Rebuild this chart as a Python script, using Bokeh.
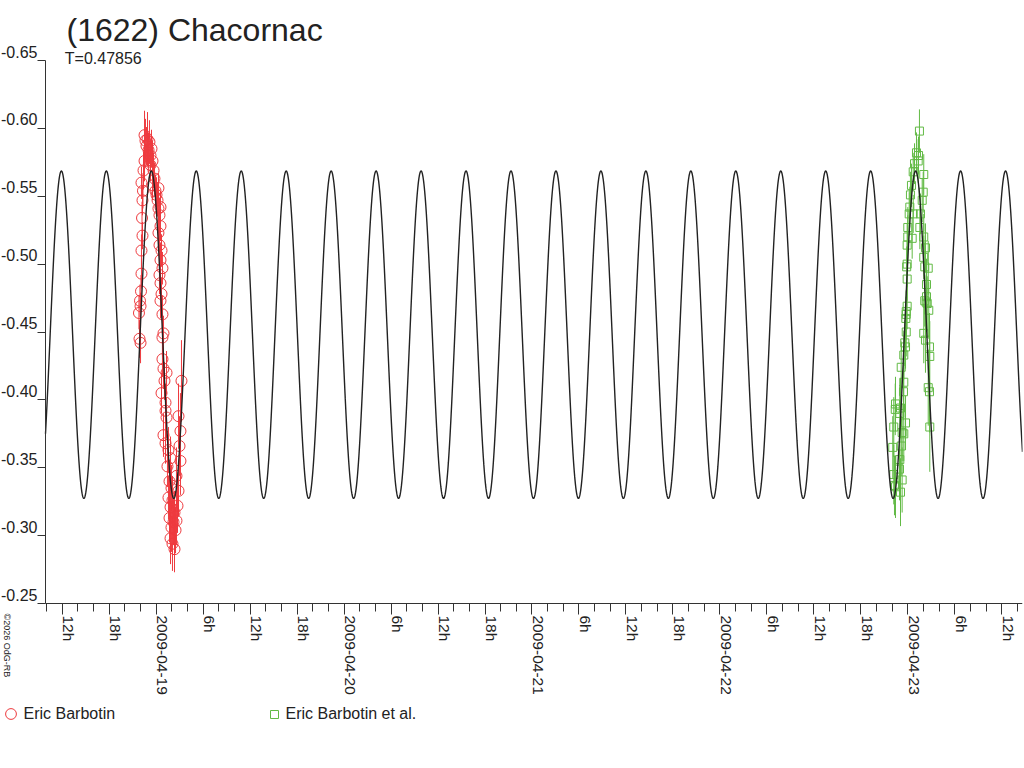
import math
import numpy as np
from bokeh.plotting import figure
from bokeh.models import (Range1d, FixedTicker, Label, LabelSet, Legend, LegendItem,
                          ColumnDataSource)
from bokeh.core.properties import value
from bokeh.embed import file_html
from bokeh.resources import INLINE

# ---------------- data ----------------
TITLE = "(1622) Chacornac"
SUBTITLE = "T=0.47856"
COPYRIGHT = "©2026 OdG-RB"
PERIOD_D = 0.47856            # rotation period, days (two maxima per period)

# fitted model curve
FIT_MEAN = -0.4480
FIT_AMP = 0.1206
FIT_EPOCH_D = -0.026          # days from 2009-04-19 00:00 UT at a brightness maximum

series_names = ["Eric Barbotin", "Eric Barbotin et al."]

x_tick_hours = [-12, -6, 0, 6, 12, 18, 24, 30, 36, 42, 48, 54, 60, 66, 72, 78,
                84, 90, 96, 102, 108]          # hours from 2009-04-19 00:00 UT
x_tick_labels = ["12h", "18h", "2009-04-19", "6h", "12h", "18h", "2009-04-20",
                 "6h", "12h", "18h", "2009-04-21", "6h", "12h", "18h",
                 "2009-04-22", "6h", "12h", "18h", "2009-04-23", "6h", "12h"]
y_ticks = [-0.65, -0.60, -0.55, -0.50, -0.45, -0.40, -0.35, -0.30, -0.25]
y_tick_labels = ["-0.65", "-0.60", "-0.55", "-0.50", "-0.45", "-0.40", "-0.35",
                 "-0.30", "-0.25"]

# Eric Barbotin: hours from 2009-04-19 00:00 UT, relative magnitude, error
red_hours = [-2.20, -2.13, -2.00, -2.07, -2.00, -1.94, -1.88, -1.88, -1.75, -1.81,
             -1.75, -1.69, -1.88, -1.62, -1.49, -1.37, -1.49, -1.24, -1.11, -0.98,
             -0.86, -0.73, -0.60, -0.47, -0.73, -0.34, -0.22, -0.47, -0.09, 0.04,
             0.17, 0.29, 0.29, 0.42, 0.55, 0.55, 0.29, 0.42, 0.68, 0.55,
             0.80, 0.42, 0.55, 0.68, 0.55, 0.80, 0.93, 0.80, 0.80, 0.93,
             1.32, 1.06, 0.68, 1.19, 1.19, 1.32, 0.93, 1.19, 1.57, 1.83,
             1.44, 1.70, 1.95, 1.57, 2.08, 1.83, 2.34, 1.70, 2.21, 1.95,
             2.47, 1.83, 2.08, 2.34, 2.59, 2.72, 2.85, 2.59, 3.10, 2.98,
             3.10, 2.85, 3.23]
red_mag = [-0.464, -0.445, -0.442, -0.473, -0.469, -0.480, -0.493, -0.510, -0.521, -0.534,
           -0.547, -0.554, -0.560, -0.569, -0.576, -0.591, -0.595, -0.587, -0.592, -0.584,
           -0.590, -0.580, -0.585, -0.576, -0.573, -0.569, -0.563, -0.558, -0.554, -0.551,
           -0.547, -0.556, -0.541, -0.536, -0.542, -0.528, -0.523, -0.514, -0.510, -0.503,
           -0.497, -0.492, -0.486, -0.478, -0.473, -0.463, -0.449, -0.446, -0.430, -0.423,
           -0.420, -0.414, -0.405, -0.398, -0.392, -0.387, -0.374, -0.368, -0.363, -0.357,
           -0.351, -0.340, -0.335, -0.328, -0.326, -0.321, -0.317, -0.313, -0.310, -0.306,
           -0.304, -0.298, -0.294, -0.290, -0.311, -0.322, -0.333, -0.344, -0.355, -0.366,
           -0.377, -0.388, -0.414]
red_err = [0.012, 0.014, 0.015, 0.012, 0.010, 0.012, 0.011, 0.012, 0.010, 0.012,
           0.011, 0.013, 0.012, 0.014, 0.015, 0.016, 0.018, 0.014, 0.020, 0.013,
           0.016, 0.012, 0.014, 0.015, 0.012, 0.013, 0.012, 0.011, 0.012, 0.013,
           0.012, 0.011, 0.012, 0.013, 0.012, 0.011, 0.012, 0.013, 0.012, 0.013,
           0.012, 0.014, 0.013, 0.012, 0.013, 0.014, 0.013, 0.014, 0.013, 0.015,
           0.016, 0.014, 0.015, 0.014, 0.016, 0.015, 0.016, 0.015, 0.017, 0.016,
           0.015, 0.016, 0.017, 0.016, 0.018, 0.017, 0.016, 0.018, 0.017, 0.018,
           0.017, 0.019, 0.020, 0.017, 0.018, 0.020, 0.019, 0.021, 0.025, 0.022,
           0.028, 0.024, 0.030]

# Eric Barbotin et al.: hours from 2009-04-23 00:00 UT, relative magnitude, error
green_hours = [1.49, 1.11, 1.37, 0.86, 1.33, 0.69, 2.04, 0.47, 1.97, 0.34,
               1.84, 0.26, 0.18, 0.69, 1.62, 1.54, 0.00, 0.00, 0.56, 2.04,
               -0.08, 2.26, 2.04, -0.08, -0.14, 2.17, 2.61, -0.08, 2.39, -0.08,
               2.39, 2.17, 2.48, -0.20, 2.68, 2.35, -0.20, -0.25, -0.20, 2.04,
               2.26, -0.38, -0.29, 2.77, -0.51, 2.81, -0.84, -0.51, 2.61, 2.77,
               -0.55, -1.57, -0.93, -1.60, -1.02, -0.29, -1.79, 2.81, -0.72, -0.51,
               -1.92, -0.84, -1.02, -1.06, -1.79, -0.72, -1.70, -0.93, -1.57]
green_mag = [-0.598, -0.582, -0.580, -0.574, -0.576, -0.568, -0.566, -0.558, -0.553, -0.551,
             -0.547, -0.542, -0.537, -0.537, -0.537, -0.527, -0.527, -0.520, -0.519, -0.520,
             -0.514, -0.512, -0.505, -0.500, -0.498, -0.498, -0.497, -0.489, -0.485, -0.469,
             -0.476, -0.473, -0.471, -0.465, -0.466, -0.472, -0.463, -0.460, -0.450, -0.449,
             -0.444, -0.442, -0.439, -0.439, -0.433, -0.432, -0.424, -0.413, -0.409, -0.406,
             -0.406, -0.397, -0.394, -0.393, -0.390, -0.383, -0.380, -0.380, -0.376, -0.375,
             -0.365, -0.366, -0.356, -0.349, -0.345, -0.341, -0.337, -0.332, -0.336]
green_err = [0.016, 0.015, 0.014, 0.015, 0.016, 0.014, 0.015, 0.016, 0.015, 0.017,
             0.016, 0.015, 0.016, 0.014, 0.015, 0.016, 0.015, 0.016, 0.015, 0.017,
             0.016, 0.018, 0.016, 0.017, 0.015, 0.018, 0.020, 0.016, 0.019, 0.017,
             0.018, 0.019, 0.020, 0.016, 0.021, 0.019, 0.017, 0.016, 0.018, 0.022,
             0.024, 0.017, 0.016, 0.025, 0.018, 0.026, 0.019, 0.020, 0.028, 0.030,
             0.021, 0.020, 0.022, 0.019, 0.021, 0.020, 0.022, 0.033, 0.021, 0.020,
             0.023, 0.022, 0.021, 0.023, 0.022, 0.024, 0.022, 0.025, 0.023]

# ---------------- layout / style ----------------
FONT = "Liberation Sans"
TEXT_COLOR = "#222222"
AXIS_COLOR = "#333333"
RED = "#EE3A3E"
GREEN = "#62BA45"
CURVE_COLOR = "#222222"

W, H = 1024, 760
TOP = 10                                  # frame top (px); the frame fills the rest
PX_PER_DAY = 187.9
PX_PER_MAG = 543 / 0.4
AXIS_X = -0.5891                          # where the magnitude axis stands (days)
AXIS_LEFT_PX = 45
AXIS_TOP_PX, AXIS_BOTTOM_PX = 60, 603     # -0.65 and -0.25 positions
X_END = 4.6105
X_START = AXIS_X - AXIS_LEFT_PX / PX_PER_DAY
Y_TOP = y_ticks[0] - (AXIS_TOP_PX - TOP) / PX_PER_MAG
Y_BOTTOM = y_ticks[-1] + (H - AXIS_BOTTOM_PX) / PX_PER_MAG

p = figure(width=W, height=H, output_backend="svg", toolbar_location=None, title=None,
           x_range=Range1d(X_START, X_END), y_range=Range1d(Y_BOTTOM, Y_TOP),
           x_axis_location="above", y_axis_location="right",
           min_border_left=0, min_border_right=2, min_border_top=TOP,
           min_border_bottom=0)
p.outline_line_color = None
p.xgrid.visible = False
p.ygrid.visible = False
p.background_fill_color = "white"
p.border_fill_color = "white"

# time axis: drawn at mag -0.25, ticks pointing down
xa = p.xaxis[0]
xa.fixed_location = y_ticks[-1]
xa.bounds = (AXIS_X, X_END)
xa.ticker = FixedTicker(ticks=[h / 24 for h in x_tick_hours],
                        minor_ticks=[k / 12 for k in range(-7, 56)])
xa.axis_line_color = AXIS_COLOR
xa.major_tick_line_color = AXIS_COLOR
xa.minor_tick_line_color = AXIS_COLOR
xa.major_tick_in = 11
xa.major_tick_out = 0
xa.minor_tick_in = 8
xa.minor_tick_out = 0
xa.major_label_standoff = 0
xa.major_label_text_font_size = "0px"
xa.major_label_text_color = None

# magnitude axis: drawn at AXIS_X, ticks pointing left
ya = p.yaxis[0]
ya.fixed_location = AXIS_X
ya.bounds = (y_ticks[0], y_ticks[-1])
ya.ticker = FixedTicker(ticks=y_ticks, minor_ticks=[])
ya.axis_line_color = AXIS_COLOR
ya.major_tick_line_color = AXIS_COLOR
ya.major_tick_in = 8
ya.major_tick_out = 0
ya.minor_tick_in = 0
ya.minor_tick_out = 0
ya.major_label_standoff = 0
ya.major_label_text_font_size = "0px"
ya.major_label_text_color = None

# data
red_x = [h / 24 for h in red_hours]
green_x = [4 + h / 24 for h in green_hours]
red_src = ColumnDataSource(dict(x=red_x, y=red_mag,
                                lo=[m - e for m, e in zip(red_mag, red_err)],
                                hi=[m + e for m, e in zip(red_mag, red_err)]))
green_src = ColumnDataSource(dict(x=green_x, y=green_mag,
                                  lo=[m - e for m, e in zip(green_mag, green_err)],
                                  hi=[m + e for m, e in zip(green_mag, green_err)]))

p.segment(x0="x", y0="lo", x1="x", y1="hi", source=red_src, line_color=RED, line_width=1)
r_red = p.scatter(x="x", y="y", source=red_src, marker="circle", size=11,
                  fill_color=None, line_color=RED, line_width=1)
p.segment(x0="x", y0="lo", x1="x", y1="hi", source=green_src, line_color=GREEN, line_width=1)
r_green = p.scatter(x="x", y="y", source=green_src, marker="square", size=8,
                    fill_color=None, line_color=GREEN, line_width=1)

# model curve
t = np.linspace(AXIS_X, X_END, 4000)
model = FIT_MEAN - FIT_AMP * np.cos(4 * math.pi * (t - FIT_EPOCH_D) / PERIOD_D)
p.line(t, model, line_color=CURVE_COLOR, line_width=1.4)

# tick labels
ylab = ColumnDataSource(dict(x=[AXIS_X] * len(y_ticks), y=y_ticks, text=y_tick_labels))
p.add_layout(LabelSet(x="x", y="y", text="text", source=ylab, x_offset=-8, y_offset=3,
                      text_align="right", text_baseline="alphabetic",
                      text_font=value(FONT), text_font_size="16px",
                      text_color=TEXT_COLOR))
xlab = ColumnDataSource(dict(x=[h / 24 for h in x_tick_hours],
                             y=[y_ticks[-1]] * len(x_tick_hours), text=x_tick_labels))
p.add_layout(LabelSet(x="x", y="y", text="text", source=xlab, x_offset=1, y_offset=-12,
                      angle=-math.pi / 2, text_align="left", text_baseline="alphabetic",
                      text_font=value(FONT), text_font_size="15.5px",
                      text_color=TEXT_COLOR))

# titles and note (screen units measured from the frame's bottom-left corner)
p.add_layout(Label(x=66, y=H - 29.5, x_units="screen", y_units="screen", text=TITLE,
                   text_font=FONT, text_font_size="32px", text_color=TEXT_COLOR,
                   text_baseline="middle"))
p.add_layout(Label(x=64.3, y=H - 58, x_units="screen", y_units="screen", text=SUBTITLE,
                   text_font=FONT, text_font_size="16px", text_color=TEXT_COLOR,
                   text_baseline="middle"))
p.add_layout(Label(x=6, y=H - 613, x_units="screen", y_units="screen", text=COPYRIGHT,
                   angle=-math.pi / 2, text_font=FONT, text_font_size="9px",
                   text_color=TEXT_COLOR, text_align="left", text_baseline="middle"))

# legends (one per series so each marker keeps its own size)
for name, rend, box, cx, standoff in [(series_names[0], r_red, 27, 10, -3),
                                      (series_names[1], r_green, 20, 273.5, 2)]:
    lg = Legend(items=[LegendItem(label=name, renderers=[rend])],
                location=(cx - box / 2, H - 713.5 - box / 2), orientation="horizontal",
                glyph_width=box, glyph_height=box, label_height=box,
                label_standoff=standoff, padding=0, margin=0, spacing=0,
                border_line_color=None, background_fill_alpha=0,
                label_text_font=FONT, label_text_font_size="16px",
                label_text_color=TEXT_COLOR)
    p.add_layout(lg, "center")

open("out.html", "w").write(file_html(p, INLINE))
